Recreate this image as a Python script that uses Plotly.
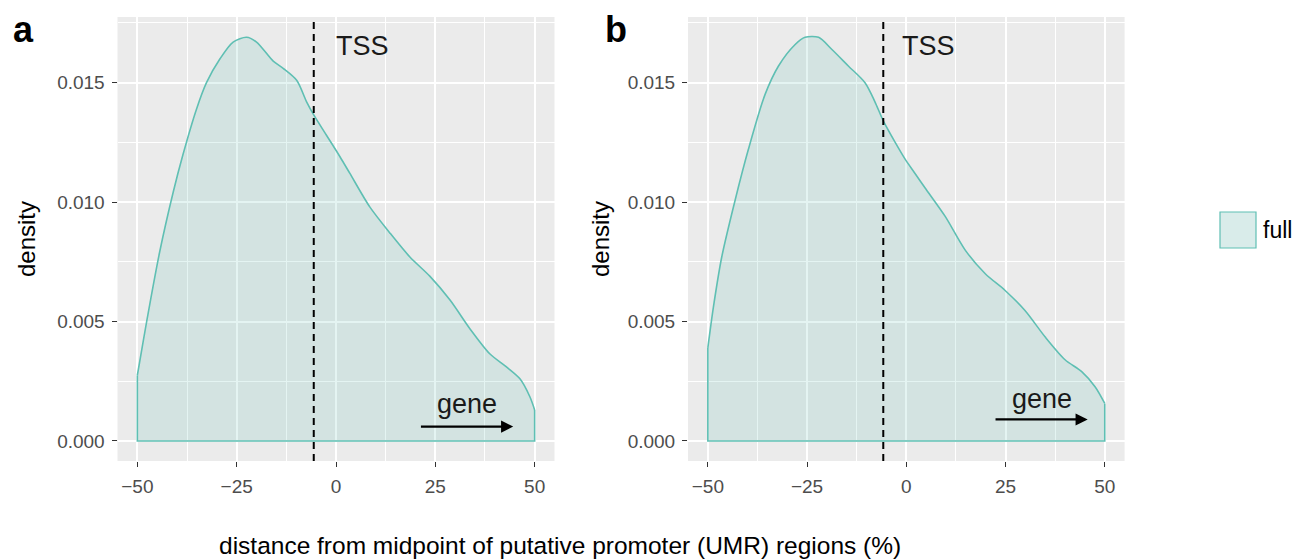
import plotly.graph_objects as go

# ---------------- data ----------------
panel_labels = ["a", "b"]

x_a = [-50, -48.5, -46.9, -44.4, -41.0, -38.5, -35.1, -32.6, -29.2, -25.9, -22.5, -20.0,
       -15.8, -13.3, -9.9, -7.4, -5.6, -2.4, 1.0, 3.5, 8.5, 13.6, 18.6, 23.6, 28.7,
       33.7, 38.7, 42.9, 46.3, 48.8, 50]
d_a = [0.00275, 0.0042, 0.0057, 0.0079, 0.0104, 0.0120, 0.0139, 0.0150, 0.0160, 0.0167,
       0.0169, 0.0167, 0.0159, 0.0156, 0.0151, 0.0142, 0.01365, 0.0128, 0.0119, 0.0112,
       0.0098, 0.0087, 0.0077, 0.0069, 0.0059, 0.0047, 0.00365, 0.0031, 0.0026, 0.00185,
       0.0013]

x_b = [-50, -48.6, -46.5, -43.1, -39.8, -35.6, -32.2, -28.0, -25.5, -22.1, -18.8, -14.6,
       -10.4, -7.9, -5.8, -2.8, -0.3, 2.2, 4.7, 9.8, 14.8, 19.9, 24.9, 29.9, 35.0, 40.0,
       44.2, 47.6, 50]
d_b = [0.0039, 0.0056, 0.0077, 0.0101, 0.0122, 0.0145, 0.0157, 0.0166, 0.0169, 0.0169,
       0.0164, 0.0157, 0.0150, 0.0142, 0.0134, 0.0125, 0.0118, 0.0112, 0.0106, 0.0094,
       0.0080, 0.0070, 0.0063, 0.00546, 0.00435, 0.0034, 0.0029, 0.00226, 0.00157]

tss_x = [-5.6, -5.8]
tss_label_x = [6.7, 5.5]
tss_label_y = 0.01654
arrow_start = [21.0, 22.1]
arrow_end = [44.6, 45.7]
arrow_y = [0.0006, 0.0009]
gene_x = [33.0, 34.2]
gene_y = [0.00155, 0.00175]

x_ticks = [-50, -25, 0, 25, 50]
y_ticks = [0.000, 0.005, 0.010, 0.015]
legend_label = "full"
x_title = "distance from midpoint of putative promoter (UMR) regions (%)"
y_title = "density"

# ---------------- style ----------------
W, H = 1308, 560
FONT = "Liberation Sans, Arial, sans-serif"
LINE = "#5fbfb3"
FILL = "rgba(95,191,179,0.17)"
PANEL = "#EBEBEB"
TICKCOL = "#4D4D4D"

x_domains = [[117.5 / W, 554.5 / W], [688.0 / W, 1124.6 / W]]
y_domain = [(H - 461) / H, (H - 17) / H]
x_range = [-55, 55]
y_range = [-0.00084, 0.01775]

fig = go.Figure()

panels = [(x_a, d_a), (x_b, d_b)]
for i, (xs, ds) in enumerate(panels):
    xa = "x" if i == 0 else "x2"
    ya = "y" if i == 0 else "y2"
    fig.add_trace(go.Scatter(
        x=xs, y=ds, mode="lines", line=dict(color=LINE, width=1.6, shape="spline", smoothing=0.8),
        fill="tozeroy", fillcolor=FILL, xaxis=xa, yaxis=ya, showlegend=False,
        name=legend_label, hoverinfo="skip"))
    # closing outline (vertical edges and baseline)
    fig.add_trace(go.Scatter(
        x=[xs[0], xs[0], xs[-1], xs[-1]], y=[ds[0], 0, 0, ds[-1]], mode="lines",
        line=dict(color=LINE, width=1.6), xaxis=xa, yaxis=ya, showlegend=False,
        hoverinfo="skip"))

axis_common = dict(
    showgrid=True, gridcolor="white", gridwidth=1.8, zeroline=False, showline=False,
    ticks="outside", ticklen=5, tickwidth=1.3, tickcolor="#333333",
    tickfont=dict(family=FONT, size=19, color=TICKCOL), ticklabelstandoff=3,
)

for i in range(2):
    sfx = "" if i == 0 else "2"
    fig.layout["xaxis" + sfx] = dict(
        axis_common, domain=x_domains[i], range=x_range, anchor="y" + sfx,
        tickmode="array", tickvals=x_ticks, ticktext=[str(v).replace("-", "\u2212") for v in x_ticks],
        minor=dict(dtick=12.5, tick0=0, showgrid=True, gridcolor="white", gridwidth=0.8, ticks=""),
    )
    fig.layout["yaxis" + sfx] = dict(
        axis_common, domain=y_domain, range=y_range, anchor="x" + sfx,
        tickmode="array", tickvals=y_ticks, ticktext=[f"{v:.3f}" for v in y_ticks],
        minor=dict(dtick=0.0025, tick0=0, showgrid=True, gridcolor="white", gridwidth=0.8, ticks=""),
    )

shapes = []
annotations = []
for i in range(2):
    sfx = "" if i == 0 else "2"
    xref = "x" + sfx
    yref = "y" + sfx
    # panel background
    shapes.append(dict(type="rect", xref=xref + " domain", yref=yref + " domain",
                       x0=0, x1=1, y0=0, y1=1, fillcolor=PANEL, line=dict(width=0), layer="below"))
    # TSS line
    shapes.append(dict(type="line", xref=xref, yref=yref + " domain", x0=tss_x[i], x1=tss_x[i],
                       y0=0, y1=1, line=dict(color="black", width=2, dash="7px,5px"), layer="above"))
    annotations.append(dict(x=tss_label_x[i], y=tss_label_y, xref=xref, yref=yref, text="TSS",
                            xanchor="center", yanchor="middle",
                            showarrow=False, font=dict(family=FONT, size=27, color="#1a1a1a")))
    annotations.append(dict(x=gene_x[i], y=gene_y[i], xref=xref, yref=yref, text="gene",
                            xanchor="center", yanchor="middle",
                            showarrow=False, font=dict(family=FONT, size=27, color="#1a1a1a")))
    annotations.append(dict(x=arrow_end[i], y=arrow_y[i], ax=arrow_start[i], ay=arrow_y[i],
                            xref=xref, yref=yref, axref=xref, ayref=yref, text="",
                            showarrow=True, arrowhead=2, arrowsize=1.1, arrowwidth=2.2,
                            arrowcolor="black", standoff=0, startstandoff=0))
    # y-axis title
    annotations.append(dict(x=(26 if i == 0 else 600) / W, y=0.5 * (y_domain[0] + y_domain[1]),
                            xref="paper", yref="paper", text=y_title, textangle=-90,
                            xanchor="center", yanchor="middle",
                            showarrow=False, font=dict(family=FONT, size=24, color="black")))
    # panel letter
    annotations.append(dict(x=(23 if i == 0 else 616) / W, y=(H - 29) / H, xref="paper", yref="paper",
                            xanchor="center", yanchor="middle",
                            text="<b>" + panel_labels[i] + "</b>", showarrow=False,
                            font=dict(family=FONT, size=36, color="black")))

# x title
annotations.append(dict(x=560 / W, y=(H - 545) / H, xref="paper", yref="paper", text=x_title,
                        xanchor="center", yanchor="middle",
                        showarrow=False, font=dict(family=FONT, size=24.5, color="black")))

# legend key (manual)
shapes.append(dict(type="rect", xref="paper", yref="paper", x0=1220 / W, x1=1256 / W,
                   y0=(H - 248) / H, y1=(H - 212) / H, fillcolor="#d9ecea",
                   line=dict(color=LINE, width=1.2)))
annotations.append(dict(x=1261 / W, y=(H - 230) / H, xref="paper", yref="paper", text=legend_label,
                        xanchor="left", yanchor="middle",
                        showarrow=False, font=dict(family=FONT, size=23, color="black")))

fig.update_layout(
    width=W, height=H, margin=dict(l=0, r=0, t=0, b=0),
    paper_bgcolor="white", plot_bgcolor="rgba(0,0,0,0)",
    shapes=shapes, annotations=annotations, showlegend=False,
)

fig.write_html("out.html")
